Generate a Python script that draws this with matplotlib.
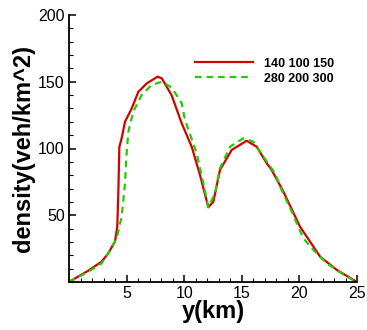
import matplotlib
matplotlib.use("Agg")
import matplotlib.pyplot as plt
from matplotlib.ticker import MultipleLocator

plt.rcParams['font.family'] = ['Liberation Sans', 'DejaVu Sans']

# coarse run 140 100 150
x_coarse = [0, 1.68, 2.83, 3.41, 3.99, 4.19, 4.28, 4.37, 4.57, 4.86, 5.44, 6.02, 6.75,
            7.69, 8.05, 8.9, 9.78, 10.65, 11.37, 12.09, 12.53, 13.1, 14.12, 15.42,
            16.29, 17.16, 17.59, 18.61, 20.05, 21.79, 23.24, 25]
rho_coarse = [0, 8.5, 15.2, 21.5, 30.2, 41.4, 66.4, 101.3, 107.6, 120, 130, 142.5, 148.8,
              153.8, 152.6, 140, 118.9, 101.3, 80.1, 56, 60.2, 83.9, 98.9, 105.8,
              101.3, 88.9, 83.9, 67.6, 41.4, 19, 9, 0]

# fine run 280 200 300
x_fine = [0, 1.68, 2.83, 3.56, 4.14, 4.57, 4.86, 5.0, 5.15, 5.58, 6.3, 7.17, 8.05,
          8.9, 9.78, 10.07, 11.08, 11.66, 12.09, 12.67, 13.1, 13.98, 15.13, 16.0,
          16.87, 17.88, 18.32, 19.33, 20.34, 21.21, 22.37, 24.1, 25]
rho_fine = [0, 7.7, 14, 23.5, 32.7, 48.9, 73.9, 96.4, 112.6, 127.6, 140, 147.6, 150,
            145.8, 133.9, 121.3, 96.4, 73.9, 56, 66.4, 85.2, 101.3, 107.6, 105.1,
            93.9, 81.4, 71.4, 52.7, 32.7, 24, 14, 4, 0]

fig = plt.figure(figsize=(3.67, 3.30), dpi=100)
ax = fig.add_axes([0.188, 0.1455, 0.785, 0.809])

ax.plot(x_coarse, rho_coarse, color='#d40000', lw=1.6, label='140 100 150')
ax.plot(x_fine, rho_fine, color='#22cc00', lw=1.6, ls=(0, (3, 2.2)), label='280 200 300')

ax.set_xlim(0, 25)
ax.set_ylim(0, 200)
ax.xaxis.set_major_locator(MultipleLocator(5))
ax.xaxis.set_minor_locator(MultipleLocator(1))
ax.yaxis.set_major_locator(MultipleLocator(50))
ax.yaxis.set_minor_locator(MultipleLocator(10))
ax.set_xticks([5, 10, 15, 20, 25])
ax.set_yticks([50, 100, 150, 200])

for s in ['top', 'right']:
    ax.spines[s].set_visible(False)
for s in ['left', 'bottom']:
    ax.spines[s].set_linewidth(1.3)

ax.tick_params(which='major', direction='in', length=5, width=1.1, labelsize=11.5, pad=3)
ax.tick_params(which='minor', direction='in', length=3, width=0.8)

ax.set_xlabel('y(km)', fontsize=17, fontweight='bold', labelpad=-1)
ax.set_ylabel('density(veh/km^2)', fontsize=17, fontweight='bold', labelpad=2)

ax.legend(loc='upper left', bbox_to_anchor=(0.4375, 0.84), frameon=False,
          prop={'size': 9, 'weight': 'bold'}, handlelength=4.6, handletextpad=0.9,
          borderpad=0, borderaxespad=0, labelspacing=0.25)

fig.savefig('out.png', dpi=100)
